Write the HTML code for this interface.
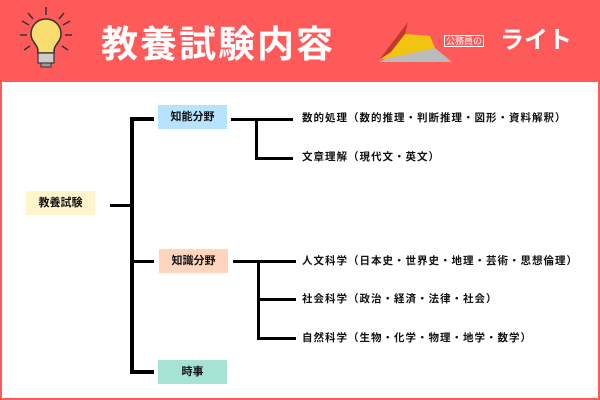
<!DOCTYPE html>
<html><head><meta charset="utf-8"><style>
*{margin:0;padding:0;box-sizing:border-box}
body{width:600px;height:400px;background:#FF5A5A;position:relative;overflow:hidden;font-family:"Liberation Sans","Noto Sans CJK JP",sans-serif}
.w{position:absolute;left:2px;top:82px;width:596px;height:316px;background:#fff}
.b{position:absolute;background:#000}
.n{position:absolute;height:24px;width:69px;font-size:11px;font-weight:bold;text-align:center;line-height:24px;color:#111}
.t{position:absolute;left:302px;font-size:10.5px;font-weight:bold;line-height:14px;color:#111;letter-spacing:1px;white-space:nowrap}
.h{position:absolute;left:101px;top:22px;font-size:37px;font-weight:bold;color:#fff;letter-spacing:2px;line-height:46px}
</style></head><body>
<div class="w"></div>
<svg style="position:absolute;left:18px;top:5px" width="56" height="66" viewBox="0 0 56 66">
<g stroke="#333" stroke-width="1.5"><line x1="28" y1="2" x2="28" y2="10"/><line x1="10" y1="8" x2="15" y2="14"/><line x1="46" y1="8" x2="41" y2="14"/><line x1="2" y1="30" x2="9" y2="30"/><line x1="47" y1="30" x2="54" y2="30"/><line x1="4" y1="16" x2="11" y2="20"/><line x1="52" y1="16" x2="45" y2="20"/><line x1="6" y1="45" x2="12" y2="41"/><line x1="50" y1="45" x2="44" y2="41"/></g>
<path d="M28 14c-9 0-15 7-15 15 0 6 4 9 6 13 1 2 1 4 1 6h16c0-2 0-4 1-6 2-4 6-7 6-13 0-8-6-15-15-15z" fill="#F7DC6F" stroke="#333" stroke-width="1.5"/>
<rect x="20" y="48" width="16" height="10" fill="#ccc" stroke="#333" stroke-width="1.2"/>
<rect x="23" y="58" width="10" height="4" fill="#999" stroke="#333"/>
</svg>
<div class="h">教養試験内容</div>
<svg style="position:absolute;left:375px;top:20px" width="78" height="45" viewBox="0 0 78 45">
<path d="M20 34 L60 28 L77 42 L4 42 Z" fill="#bbb"/><path d="M4 40 L30 14 L55 16 L60 28 Z" fill="#F1C40F"/><path d="M33 2 L4 40 L16 32 L30 14 Z" fill="#C0392B"/>
</svg>
<div style="position:absolute;left:444px;top:35px;font-size:9px;color:#fff;border:1px solid #fff;line-height:10px;padding:0 1px">公務員の</div>
<div style="position:absolute;left:500px;top:26px;font-size:24px;font-weight:bold;color:#fff;line-height:30px">ライト</div>

<div class="n" style="left:26px;top:191px;background:#FFF4CC">教養試験</div>
<div class="n" style="left:158px;top:105px;background:#B8E3FF">知能分野</div>
<div class="n" style="left:159px;top:249px;background:#FFD5BE">知識分野</div>
<div class="n" style="left:158px;top:360px;background:#A5E3D5">時事</div>

<div class="b" style="left:110px;top:204px;width:22px;height:3px"></div>
<div class="b" style="left:130px;top:117px;width:4px;height:257px"></div>
<div class="b" style="left:132px;top:117px;width:22px;height:4px"></div>
<div class="b" style="left:132px;top:260px;width:22px;height:3px"></div>
<div class="b" style="left:132px;top:370px;width:22px;height:4px"></div>

<div class="b" style="left:231px;top:118px;width:62px;height:3px"></div>
<div class="b" style="left:255px;top:118px;width:3px;height:42px"></div>
<div class="b" style="left:255px;top:157px;width:38px;height:3px"></div>

<div class="b" style="left:233px;top:260px;width:63px;height:3px"></div>
<div class="b" style="left:257px;top:260px;width:3px;height:80px"></div>
<div class="b" style="left:257px;top:298px;width:39px;height:3px"></div>
<div class="b" style="left:257px;top:337px;width:39px;height:3px"></div>

<div class="t" style="top:111px">数的処理（数的推理・判断推理・図形・資料解釈）</div>
<div class="t" style="top:150px">文章理解（現代文・英文）</div>
<div class="t" style="top:254px">人文科学（日本史・世界史・地理・芸術・思想倫理）</div>
<div class="t" style="top:292px">社会科学（政治・経済・法律・社会）</div>
<div class="t" style="top:331px">自然科学（生物・化学・物理・地学・数学）</div>
</body></html>
